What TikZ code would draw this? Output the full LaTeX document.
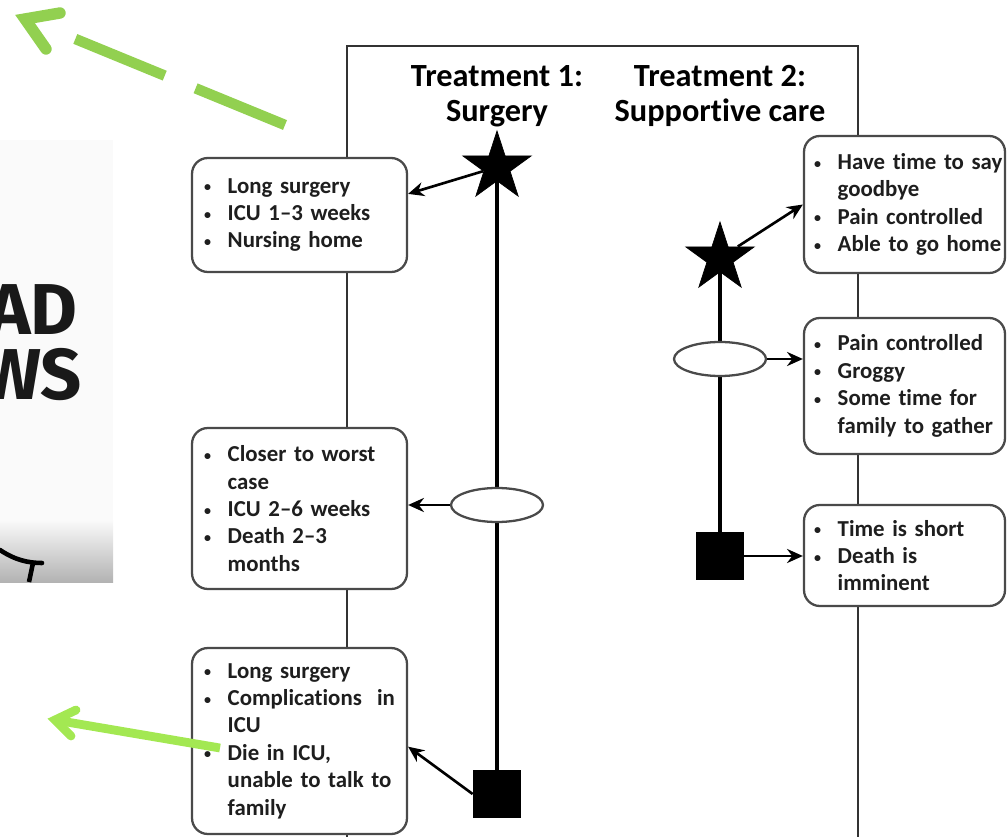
\documentclass[tikz,border=0pt]{standalone}
\usepackage{fontspec}
\setmainfont{Carlito}[Ligatures={NoCommon}]
\newfontfamily\handfont{Fira Sans}
\usetikzlibrary{shapes.geometric, arrows.meta, positioning, backgrounds}
\definecolor{framegray}{HTML}{333333}
\definecolor{boxgray}{HTML}{4A4A4A}
\definecolor{textgray}{HTML}{1E1E1E}
\definecolor{hintgreen}{HTML}{92D050}
\definecolor{pointgreen}{HTML}{A3E852}
\newcommand{\itm}[1]{\mbox{\makebox[13.5pt][l]{\raisebox{0.8pt}{\fontsize{8}{8}\selectfont\textbullet}}#1}}
\newcommand{\cnt}[1]{\mbox{\hspace*{13.5pt}#1}}

\begin{document}
\begin{tikzpicture}[
                x=0.02cm, y=-0.02cm,
                font=\bfseries\fontsize{13}{15.6}\selectfont,
                box/.style={rectangle, draw=boxgray, line width=1.3pt, rounded corners=9pt, fill=white, align=left, text=textgray, inner xsep=0.24cm, inner ysep=0pt},
                leftbox/.style={box, minimum width=4.3cm, text width=3.82cm},
                rightbox/.style={box, inner xsep=0.2cm, minimum width=4.02cm, text width=3.62cm},
                title/.style={align=center, inner sep=0pt, text=black, font=\bfseries\fontsize{18.4}{20}\selectfont},
                hand/.style={inner sep=0pt, text=black!90, font=\handfont\bfseries\fontsize{41}{41}\selectfont},
                starnode/.style={star, star points=5, star point ratio=2.618, fill=black, draw=black, inner sep=0pt, minimum size=1.44cm},
                sqnode/.style={rectangle, fill=black, inner sep=0pt, minimum size=0.96cm},
                ovalnode/.style={ellipse, draw=boxgray, line width=1.3pt, fill=white, inner sep=0pt, minimum width=1.84cm, minimum height=0.68cm},
                track/.style={line width=2.5pt, black},
                arrow/.style={line width=1.5pt, -{Stealth[length=9pt, width=8pt]}}
            ]
            \useasboundingbox (0,0) rectangle (1007,837);

            % cut-off picture on the left
            \fill[black!2] (0,140) rectangle (113,521);
            \shade[top color=black!2, bottom color=black!30] (0,520) rectangle (113,582);
            \node (bad) [hand, anchor=base east] at (78,335) {AD};
            \node (news) [hand, anchor=base east] at (82,400) {WS};
            \draw[line width=2.6pt, line cap=round] (0,550) .. controls (15,560) and (28,563) .. (42,563);
            \draw[line width=2.6pt] (33,563) -- (29,582);

            % frame
            \draw[framegray, line width=1.5pt] (347,920) -- (347,46) -- (858,46) -- (858,920);

            \node (trt1) [title, anchor=north] at (497,65) {Treatment 1:\\Surgery};
            \node (trt2) [title, anchor=north] at (720,65) {Treatment 2:\\Supportive care};

            % treatment 1
            \node (star1) [starnode] at (497,167) {};
            \node (oval1) [ovalnode] at (497,505) {};
            \node (sq1) [sqnode] at (497,794) {};

            \node (surg1) [leftbox] at (299.5,215) [minimum height=2.28cm]
                {\itm{Long surgery}\\\itm{ICU 1–3 weeks}\\\itm{Nursing home}};
            \node (surg2) [leftbox] at (299.5,508.5) [minimum height=3.22cm]
                {\itm{Closer to worst}\\\cnt{case}\\\itm{ICU 2–6 weeks}\\\itm{Death 2–3}\\\cnt{months}};
            \node (surg3) [leftbox] at (299.5,741) [minimum height=3.72cm]
                {\itm{Long surgery}\\\itm{Complications\ \ in}\\\cnt{ICU}\\\itm{Die in ICU,}\\\cnt{unable to talk to}\\\cnt{family}};

            % treatment 2
            \node (star2) [starnode] at (720,258) {};
            \node (oval2) [ovalnode] at (720,359) {};
            \node (sq2) [sqnode] at (720,556) {};

            \node (care1) [rightbox] at (904.5,204.5) [minimum height=2.74cm]
                {\itm{Have time to say}\\\cnt{goodbye}\\\itm{Pain controlled}\\\itm{Able to go home}};
            \node (care2) [rightbox] at (904.5,386) [minimum height=2.72cm]
                {\itm{Pain controlled}\\\itm{Groggy}\\\itm{Some time for}\\\cnt{family to gather}};
            \node (care3) [rightbox] at (904.5,555.5) [minimum height=2.02cm]
                {\itm{Time is short}\\\itm{Death is}\\\cnt{imminent}};

            \begin{scope}[on background layer]
            \draw [track] (star1) -- (sq1);
            \draw [track] (star2) -- (sq2);
            \end{scope}

            \draw [arrow] (star1) -- (surg1.11);
            \draw [arrow] (oval1.west) -- (oval1.west -| surg2.east);
            \draw [arrow] (sq1.west) -- (surg3.-3);
            \draw [arrow] (star2) -- (care1.west);
            \draw [arrow] (oval2.east) -- (oval2.east -| care2.west);
            \draw [arrow] (sq2.east) -- (sq2.east -| care3.west);

            % green hints
            \coordinate (hintstart) at (285,125);
            \coordinate (hintend) at (73,38);
            \coordinate (hinttip) at (25,19);
            \draw [hintgreen, line width=6pt, dash pattern=on 55pt off 19pt] (hintstart) -- (hintend);
            \draw [hintgreen, line width=6.5pt, line cap=round, line join=miter] (60,13) -- (hinttip) -- (46,49);

            \coordinate (pointtail) at (220,748);
            \coordinate (pointtip) at (55,720);
            \draw [pointgreen, line width=5pt] (pointtail) -- (pointtip);
            \draw [pointgreen, line width=5pt, line cap=round, line join=miter] (76,710) -- (pointtip) -- (71,736);
            \end{tikzpicture}
\end{document}
